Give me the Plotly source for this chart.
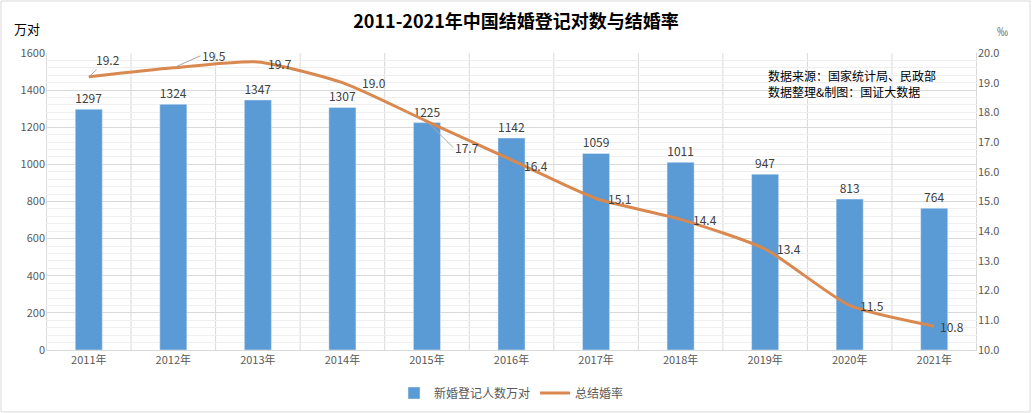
import plotly.graph_objects as go

years = ["2011年", "2012年", "2013年", "2014年", "2015年", "2016年",
         "2017年", "2018年", "2019年", "2020年", "2021年"]
pairs = [1297, 1324, 1347, 1307, 1225, 1142, 1059, 1011, 947, 813, 764]
rates = [19.2, 19.5, 19.7, 19.0, 17.7, 16.4, 15.1, 14.4, 13.4, 11.5, 10.8]

# label offsets (pixels) for the rate labels, and whether a leader line is drawn
label_dx = [19, 27, 22, 32, 26, 24, 23, 24, 24, 22, 18]
label_dy = [-17, -12, 2, 0, 26, 6, 0, 0, -1, 0, 0]
leader = [True, True, False, False, True, False, False, False, False, False, False]

FONT = "Noto Sans CJK SC"
TICK = "#595959"

fig = go.Figure()
fig.add_trace(go.Bar(
    x=years, y=pairs, name="新婚登记人数万对",
    marker=dict(color="#5B9BD5"), width=0.32,
    text=[str(v) for v in pairs], textposition="outside",
    textfont=dict(size=12, color="#404040", family=FONT),
    cliponaxis=False,
))
fig.add_trace(go.Scatter(
    x=years, y=rates, name="总结婚率", yaxis="y2",
    mode="lines", line=dict(color="#D9884F", width=3, shape="spline", smoothing=0.6),
    cliponaxis=False,
))

for i, (yr, v) in enumerate(zip(years, rates)):
    if leader[i]:
        fig.add_annotation(x=yr, y=v, xref="x", yref="y2", text=f"{v:.1f}",
                           showarrow=True, arrowhead=0, arrowwidth=1, arrowcolor="#A6A6A6",
                           ax=label_dx[i], ay=label_dy[i], standoff=2,
                           xanchor="left" if i == 1 or i == 4 else "center",
                           font=dict(size=12, color="#404040", family=FONT))
    else:
        fig.add_annotation(x=yr, y=v, xref="x", yref="y2", text=f"{v:.1f}",
                           showarrow=False, xshift=label_dx[i], yshift=-label_dy[i],
                           font=dict(size=12, color="#404040", family=FONT))

l, r, t, b = 46, 55, 53, 63
W, H = 1032, 413
pw, ph = W - l - r, H - t - b

fig.update_layout(
    width=W, height=H,
    margin=dict(l=l, r=r, t=t, b=b, autoexpand=False),
    paper_bgcolor="white", plot_bgcolor="white",
    font=dict(family=FONT, size=11, color=TICK),
    title=dict(text="<b>2011-2021年中国结婚登记对数与结婚率</b>", x=0.5, xanchor="center",
               y=1 - 22 / H, yanchor="middle", font=dict(size=18, color="#000000", family=FONT)),
    bargap=0.6,
    xaxis=dict(
        showgrid=False, ticks="", showline=True, linecolor="#D9D9D9", automargin=False,
        tickfont=dict(size=11, color=TICK),
    ),
    yaxis=dict(
        range=[0, 1600], dtick=200, showgrid=True, gridcolor="#D9D9D9", gridwidth=1,
        minor=dict(dtick=40, showgrid=True, gridcolor="#EFEFEF", gridwidth=1),
        zeroline=False, tickfont=dict(size=11, color=TICK), ticks="", automargin=False,
    ),
    yaxis2=dict(
        range=[10, 20], dtick=1, overlaying="y", side="right", showgrid=False,
        tickformat=".1f", zeroline=False, tickfont=dict(size=11, color=TICK), ticks="",
        automargin=False,
    ),
    legend=dict(orientation="h", x=0.5, xanchor="center", yref="container",
                y=1 - 393 / H, yanchor="middle", font=dict(size=12, color=TICK)),
    showlegend=True,
)

# vertical gridlines at category boundaries
for i in range(len(years) + 1):
    fig.add_shape(type="line", xref="x", yref="paper", x0=i - 0.5, x1=i - 0.5, y0=0, y1=1,
                  line=dict(color="#D9D9D9", width=1), layer="below")

fig.add_annotation(text="万对", xref="paper", yref="paper", x=(12 - l) / pw, y=(H - 28 - b) / ph,
                   xanchor="left", yanchor="middle", showarrow=False,
                   font=dict(size=13, color="#000000", family=FONT))
fig.add_annotation(text="‰", xref="paper", yref="paper", x=(1002 - l) / pw, y=(H - 31 - b) / ph,
                   xanchor="center", yanchor="middle", showarrow=False,
                   font=dict(size=11, color=TICK, family=FONT))
fig.add_annotation(text="数据来源：国家统计局、民政部<br>数据整理&制图：国证大数据",
                   xref="paper", yref="paper", x=(766 - l) / pw, y=(H - 84 - b) / ph,
                   xanchor="left", yanchor="middle", showarrow=False, align="left",
                   font=dict(size=12, color="#000000", family=FONT))

# chart border
fig.add_shape(type="rect", xref="paper", yref="paper",
              x0=(1 - l) / pw, x1=(W - 2 - l) / pw, y0=-(b - 1) / ph, y1=(H - b - 1) / ph,
              line=dict(color="#D9D9D9", width=1), layer="below")

fig.write_html("out.html")
